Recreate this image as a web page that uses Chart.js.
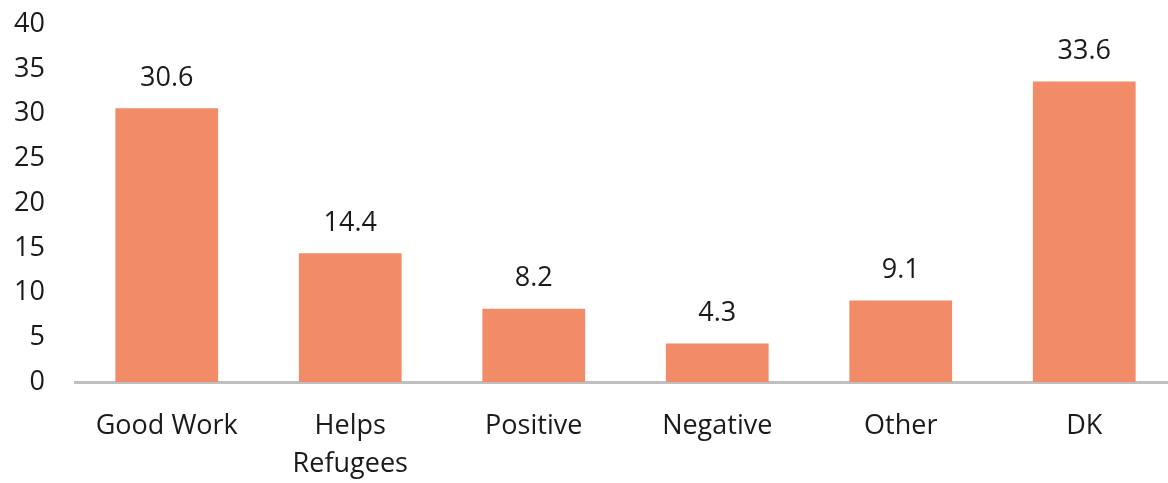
<!DOCTYPE html>
<html>
<head>
<meta charset="utf-8">
<script src="https://cdn.jsdelivr.net/npm/chart.js@4.4.0/dist/chart.umd.min.js"></script>
<style>
  html, body { margin: 0; padding: 0; background: #fff; overflow: hidden; }
  #wrap { width: 1176px; height: 505px; margin-top: -22px; }
</style>
</head>
<body>
<div id="wrap"><canvas id="opinionChart"></canvas></div>
<script>
  // Categorias e valores (%)
  const categories = ['Good Work', ['Helps', 'Refugees'], 'Positive', 'Negative', 'Other', 'DK'];
  const values = [30.6, 14.4, 8.2, 4.3, 9.1, 33.6];
  const yTicks = [0, 5, 10, 15, 20, 25, 30, 35, 40];

  const fontFamily = '"Open Sans", "Noto Sans", sans-serif';

  // Rótulos de valor acima de cada barra
  const valueLabels = {
    id: 'valueLabels',
    afterDatasetsDraw(chart) {
      const ctx = chart.ctx;
      const meta = chart.getDatasetMeta(0);
      ctx.save();
      ctx.font = '27px ' + fontFamily;
      ctx.fillStyle = '#1a1a1a';
      ctx.textAlign = 'center';
      ctx.textBaseline = 'middle';
      meta.data.forEach((bar, i) => {
        ctx.fillText(values[i].toFixed(1), bar.x, bar.y - 30);
      });
      ctx.restore();
    }
  };

  const chartData = {
    labels: categories,
    datasets: [{
      data: values,
      backgroundColor: '#F28B67',
      borderWidth: 0,
      barPercentage: 0.56,
      categoryPercentage: 1.0
    }]
  };

  const chartConfig = {
    type: 'bar',
    data: chartData,
    plugins: [valueLabels],
    options: {
      responsive: true,
      maintainAspectRatio: false,
      animation: false,
      layout: { padding: 0 },
      plugins: {
        legend: { display: false },
        tooltip: { enabled: false }
      },
      scales: {
        x: {
          afterFit(axis) {
            axis.height = 101;
          },
          grid: { display: false, drawTicks: false },
          border: { display: true, color: '#BFBFBF', width: 3 },
          ticks: {
            color: '#1a1a1a',
            font: { family: fontFamily, size: 27, lineHeight: 1.42 },
            padding: 25,
            maxRotation: 0,
            autoSkip: false
          }
        },
        y: {
          min: 0,
          max: 40,
          afterBuildTicks(axis) {
            axis.ticks = yTicks.map(v => ({ value: v }));
          },
          afterFit(axis) {
            axis.width = 75;
          },
          grid: { display: false, drawTicks: false },
          border: { display: false },
          ticks: {
            color: '#1a1a1a',
            font: { family: fontFamily, size: 27 },
            padding: 30
          }
        }
      }
    }
  };

  const opinionCanvas = document.getElementById('opinionChart');
  new Chart(opinionCanvas, chartConfig);
</script>
</body>
</html>
